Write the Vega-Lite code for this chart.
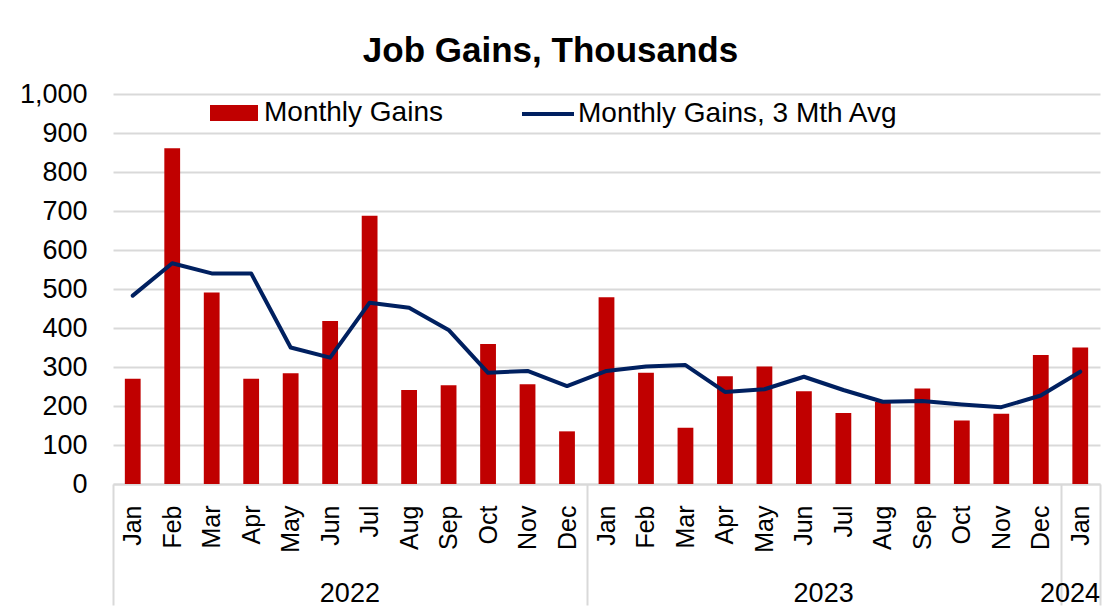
{
  "$schema": "https://vega.github.io/schema/vega-lite/v6.json",
  "width": 987,
  "height": 390,
  "autosize": {"type": "none"},
  "padding": {"left": 113, "top": 94, "right": 19, "bottom": 122},
  "background": "white",
  "title": {
    "text": "Job Gains, Thousands",
    "font": "Liberation Sans",
    "fontSize": 35,
    "fontWeight": "bold",
    "color": "#000000",
    "anchor": "middle",
    "frame": "group",
    "dx": -56,
    "baseline": "alphabetic",
    "offset": -17
  },
  "data": {
    "values": [
      {"period": "2022-Jan", "gains": 270, "avg3": 483},
      {"period": "2022-Feb", "gains": 861, "avg3": 566},
      {"period": "2022-Mar", "gains": 491, "avg3": 540},
      {"period": "2022-Apr", "gains": 270, "avg3": 540},
      {"period": "2022-May", "gains": 284, "avg3": 350},
      {"period": "2022-Jun", "gains": 418, "avg3": 324},
      {"period": "2022-Jul", "gains": 688, "avg3": 465},
      {"period": "2022-Aug", "gains": 241, "avg3": 452},
      {"period": "2022-Sep", "gains": 253, "avg3": 395},
      {"period": "2022-Oct", "gains": 359, "avg3": 285},
      {"period": "2022-Nov", "gains": 256, "avg3": 290},
      {"period": "2022-Dec", "gains": 135, "avg3": 251},
      {"period": "2023-Jan", "gains": 479, "avg3": 290},
      {"period": "2023-Feb", "gains": 285, "avg3": 301},
      {"period": "2023-Mar", "gains": 144, "avg3": 305},
      {"period": "2023-Apr", "gains": 276, "avg3": 236},
      {"period": "2023-May", "gains": 301, "avg3": 243},
      {"period": "2023-Jun", "gains": 238, "avg3": 275},
      {"period": "2023-Jul", "gains": 182, "avg3": 241},
      {"period": "2023-Aug", "gains": 210, "avg3": 211},
      {"period": "2023-Sep", "gains": 245, "avg3": 213},
      {"period": "2023-Oct", "gains": 163, "avg3": 204},
      {"period": "2023-Nov", "gains": 180, "avg3": 197},
      {"period": "2023-Dec", "gains": 331, "avg3": 227},
      {"period": "2024-Jan", "gains": 350, "avg3": 288}
    ]
  },
  "layer": [
    {
      "mark": {"type": "bar", "width": {"band": 0.4}},
      "encoding": {
        "x": {
          "field": "period",
          "type": "ordinal",
          "sort": null,
          "scale": {"type": "band", "paddingInner": 0, "paddingOuter": 0},
          "axis": {
            "title": null,
            "orient": "bottom",
            "labelAngle": -90,
            "labelExpr": "datum.value ? slice(datum.value, 5) : ''",
            "ticks": true,
            "tickBand": "extent",
            "tickSize": 121,
            "tickColor": "#d9d9d9",
            "tickWidth": 2,
            "tickOpacity": {
              "condition": {"test": "datum.extra || datum.value === '2022-Dec' || datum.value === '2023-Dec' || datum.value === '2024-Jan'", "value": 1},
              "value": 0
            },
            "labelPadding": -100,
            "labelFontSize": 25,
            "domainColor": "#d9d9d9",
            "domainWidth": 2,
            "grid": false,
            "labelOverlap": false
          }
        },
        "y": {
          "field": "gains",
          "type": "quantitative",
          "scale": {"domain": [0, 1000], "nice": false},
          "axis": {
            "title": null,
            "values": [0, 100, 200, 300, 400, 500, 600, 700, 800, 900, 1000],
            "format": ",d",
            "labelOverlap": false,
            "domain": false,
            "ticks": false,
            "tickSize": 0,
            "labelPadding": 26,
            "labelFontSize": 27,
            "grid": true,
            "gridColor": "#d9d9d9",
            "gridWidth": 2
          }
        },
        "fill": {
          "datum": "Monthly Gains",
          "scale": {"range": ["#c00000"]},
          "legend": {
            "orient": "none",
            "legendX": 105,
            "legendY": 3,
            "title": null,
            "direction": "horizontal",
            "symbolType": "M-1.5,-0.5H1.5V0.5H-1.5Z",
            "symbolSize": 1024,
            "symbolStrokeWidth": 0,
            "labelOffset": 14
          }
        }
      }
    },
    {
      "mark": {"type": "line", "strokeWidth": 4, "strokeJoin": "round", "strokeCap": "round"},
      "encoding": {
        "x": {
          "field": "period",
          "type": "ordinal",
          "sort": null,
          "scale": {"type": "band", "paddingInner": 0, "paddingOuter": 0},
          "axis": {
            "title": null,
            "orient": "bottom",
            "values": ["2022-Jun", "2023-Jun", "2024-Jan"],
            "domain": false,
            "grid": false,
            "ticks": false,
            "tickSize": 0,
            "labelAngle": 0,
            "labelAlign": {
              "condition": {"test": "datum.value === '2024-Jan'", "value": "right"},
              "value": "center"
            },
            "labelBaseline": "top",
            "labelPadding": 96,
            "labelFontSize": 27,
            "labelOverlap": false,
            "labelOffset": 19.74,
            "labelExpr": "datum.value ? slice(datum.value, 0, 4) : ''"
          }
        },
        "y": {
          "field": "avg3",
          "type": "quantitative",
          "scale": {"domain": [0, 1000], "nice": false},
          "axis": {
            "title": null,
            "values": [0, 100, 200, 300, 400, 500, 600, 700, 800, 900, 1000],
            "format": ",d",
            "labelOverlap": false,
            "domain": false,
            "ticks": false,
            "tickSize": 0,
            "labelPadding": 26,
            "labelFontSize": 27,
            "grid": true,
            "gridColor": "#d9d9d9",
            "gridWidth": 2
          }
        },
        "stroke": {
          "datum": "Monthly Gains, 3 Mth Avg",
          "scale": {"range": ["#002060"]},
          "legend": {
            "orient": "none",
            "legendX": 407,
            "legendY": -8,
            "title": null,
            "direction": "horizontal",
            "symbolType": "stroke",
            "symbolSize": 2704,
            "symbolStrokeWidth": 4,
            "labelOffset": 2
          }
        }
      }
    }
  ],
  "resolve": {"axis": {"x": "independent"}},
  "config": {
    "font": "Liberation Sans",
    "view": {"stroke": null},
    "axis": {"labelColor": "#000000", "labelFont": "Liberation Sans"},
    "legend": {
      "labelFont": "Liberation Sans",
      "labelFontSize": 28,
      "labelColor": "#000000",
      "labelLimit": 600,
      "padding": 0
    }
  }
}
